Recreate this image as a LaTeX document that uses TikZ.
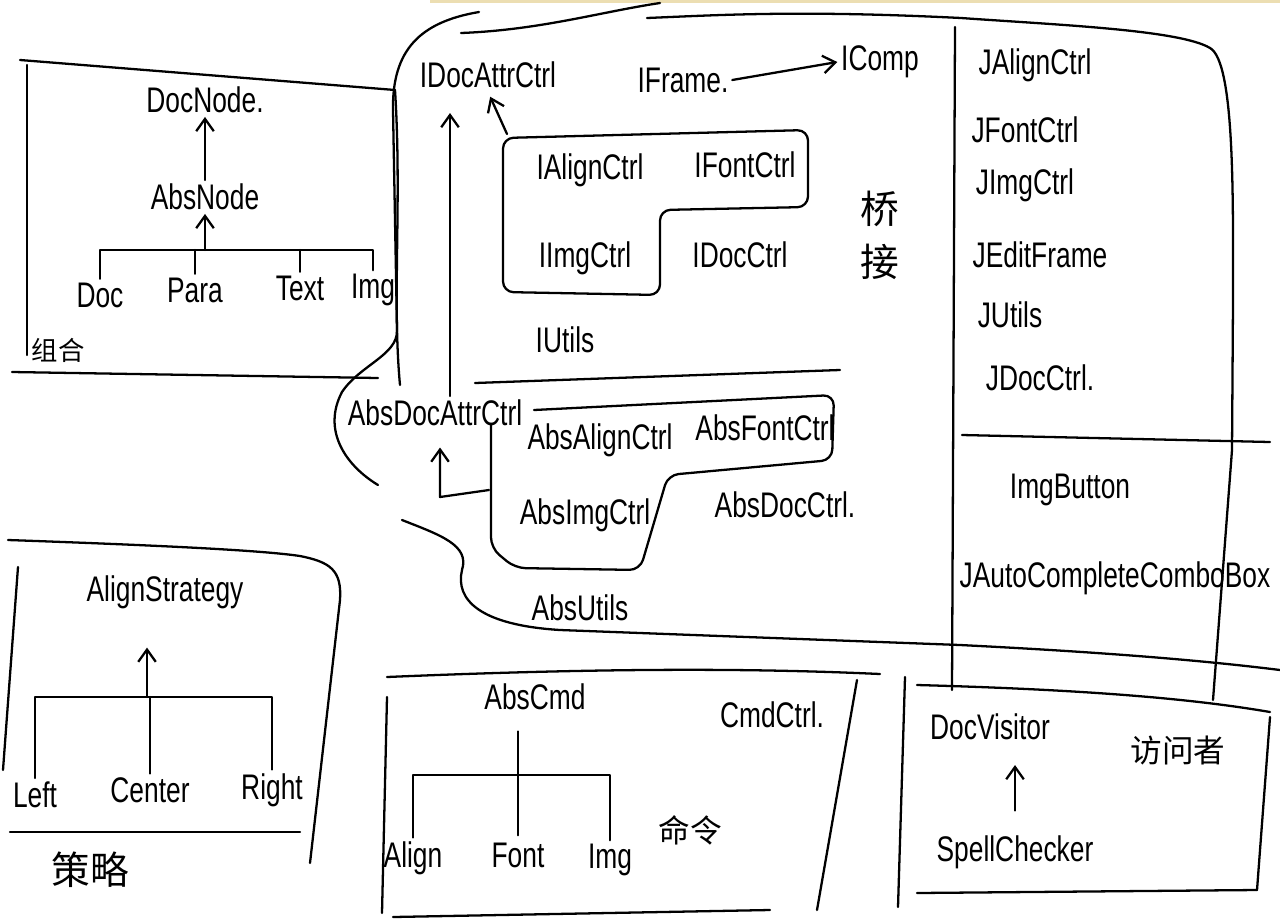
\documentclass[tikz,border=0pt]{standalone}
\usepackage{graphicx}
\usepackage{fontspec}
\setmainfont{Liberation Sans}
\newfontfamily\cjk{Noto Sans CJK SC}
\usetikzlibrary{arrows.meta}
\definecolor{paperedge}{RGB}{236,222,178}
\newcommand\talltxt[1]{\scalebox{1}[1.35]{#1}}
\begin{document}
\begin{tikzpicture}[x=0.02cm,y=-0.02cm,
  pen/.style={line width=1.3pt,line cap=round,line join=round},
  arr/.style={pen,-{Straight Barb[length=7pt,width=10pt]}},
  lbl/.style={font=\fontsize{15}{18}\selectfont,inner sep=2pt},
  zh/.style={font=\cjk\fontsize{18}{22}\selectfont,inner sep=2pt},
  zhbig/.style={font=\cjk\fontsize{22}{30}\selectfont,inner sep=2pt,align=center}]
\useasboundingbox (0,0) rectangle (1280,923);
\fill[paperedge] (430,0) rectangle (1280,3);

% ---------------- composite box (top left)
\draw[pen] (20,60) -- (395,90);
\draw[pen] (27,65) -- (27,355);
\draw[pen] (12,372) -- (378,378);
\node[lbl] (docnode) at (205,100) {\talltxt{DocNode.}};
\node[lbl] (absnode) at (205,197) {\talltxt{AbsNode}};
\node[lbl] (doc) at (100,295) {\talltxt{Doc}};
\node[lbl] (para) at (195,290) {\talltxt{Para}};
\node[lbl] (text) at (300,288) {\talltxt{Text}};
\node[lbl] (img) at (373,290) {\talltxt{Img}};
\node[zh,font=\cjk\fontsize{15}{18}\selectfont] (zuhe) at (58,350) {组合};
\draw[arr] (absnode.north) -- (docnode.south);
\coordinate (bk) at (205,250);
\draw[arr] (bk) -- (absnode.south);
\draw[pen] (doc.north) -- (doc.north |- bk) -- (img.north |- bk) -- (img.north);
\draw[pen] (para.north) -- (para.north |- bk);
\draw[pen] (text.north) -- (text.north |- bk);

% ---------------- bridge region outline
\draw[pen] (479,12) .. controls (420,22) and (392,50) .. (393,110) -- (397,330)
  .. controls (398,355) and (360,365) .. (342,392) .. controls (322,430) and (345,465) .. (378,485);
\draw[pen] (402,520) .. controls (440,535) and (470,545) .. (462,570)
  .. controls (455,600) and (480,625) .. (560,630) -- (960,645)
  .. controls (1100,652) and (1200,660) .. (1280,670);
\draw[pen] (395,90) .. controls (402,200) and (392,300) .. (400,385);
\draw[pen] (461,33) .. controls (540,30) and (600,12) .. (660,3);
\draw[pen] (647,18) .. controls (720,15) and (800,10) .. (961,18)
  .. controls (1060,25) and (1180,30) .. (1210,48)
  .. controls (1235,62) and (1233,200) .. (1233,300) -- (1232,450) -- (1213,700);

% interfaces
\node[lbl] (idocattr) at (488,75) {\talltxt{IDocAttrCtrl}};
\node[lbl] (iframe) at (683,80) {\talltxt{IFrame.}};
\node[lbl] (icomp) at (880,62) {\talltxt{IComp}};
\draw[arr] (iframe.east) -- (icomp.west);
\draw[pen,rounded corners=6pt] (503,138) -- (808,130) -- (808,207) -- (660,210) -- (660,295) -- (503,292) -- cycle;
\node[lbl] (ialign) at (590,170) {\talltxt{IAlignCtrl}};
\node[lbl] (ifont) at (745,165) {\talltxt{IFontCtrl}};
\node[lbl] (iimg) at (585,258) {\talltxt{IImgCtrl}};
\node[lbl] (idocctrl) at (740,255) {\talltxt{IDocCtrl}};
\node[lbl] (iutils) at (565,340) {\talltxt{IUtils}};
\coordinate (iboxc) at (507,134);
\draw[arr,shorten >=3pt] (iboxc) -- (idocattr.south);
\node[zhbig] (qiaojie) at (880,235) {桥\\接};
\draw[pen] (475,383) -- (840,370);

% abstract classes
\node[lbl] (absdocattr) at (435,413) {\talltxt{AbsDocAttrCtrl}};
\draw[arr,shorten >=12pt] ([xshift=0.3cm]absdocattr.north) -- ([xshift=0.3cm]absdocattr.north |- idocattr.south);
\draw[pen,rounded corners=6pt] (534,410) -- (834,395) -- (832,460) -- (668,475) -- (640,570) -- (515,568) -- (491,548) -- (491,425);
\node[lbl] (absalign) at (600,440) {\talltxt{AbsAlignCtrl}};
\node[lbl] (absfont) at (765,428) {\talltxt{AbsFontCtrl}};
\node[lbl] (absimg) at (585,515) {\talltxt{AbsImgCtrl}};
\node[lbl] (absdocctrl) at (785,505) {\talltxt{AbsDocCtrl.}};
\node[lbl] (absutils) at (580,608) {\talltxt{AbsUtils}};
\coordinate (absboxl) at (489,490);
\coordinate (hk) at (440,497);
\draw[arr,shorten >=10pt] (absboxl) -- (hk) -- (hk |- absdocattr.south);

% ---------------- Swing column
\draw[pen] (955,27) -- (952,690);
\draw[pen] (962,435) -- (1270,442);
\node[lbl] (jalign) at (1035,65) {\talltxt{JAlignCtrl}};
\node[lbl] (jfont) at (1025,130) {\talltxt{JFontCtrl}};
\node[lbl] (jimg) at (1025,185) {\talltxt{JImgCtrl}};
\node[lbl] (jedit) at (1040,255) {\talltxt{JEditFrame}};
\node[lbl] (jutils) at (1010,315) {\talltxt{JUtils}};
\node[lbl] (jdoc) at (1040,378) {\talltxt{JDocCtrl.}};
\node[lbl] (imgbtn) at (1070,490) {\talltxt{ImgButton}};
\node[lbl] (jauto) at (1115,578) {\talltxt{JAutoCompleteComboBox}};

% ---------------- strategy box
\draw[pen] (8,540) .. controls (150,545) and (260,550) .. (300,556)
  .. controls (330,562) and (342,570) .. (340,600) -- (310,863);
\draw[pen] (18,567) -- (3,770);
\draw[pen] (10,832) -- (300,832);
\node[lbl] (alignstrat) at (165,592) {\talltxt{AlignStrategy}};
\node[lbl] (left) at (35,795) {\talltxt{Left}};
\node[lbl] (center) at (150,790) {\talltxt{Center}};
\node[lbl] (right) at (272,790) {\talltxt{Right}};
\node[zhbig] (celue) at (90,870) {策略};
\coordinate (sbar) at (147,697);
\draw[arr,shorten >=20pt] (sbar) -- (sbar |- alignstrat.south);
\draw[pen] (left.north) -- (left.north |- sbar) -- (right.north |- sbar) -- (right.north);
\draw[pen] (center.north) -- (center.north |- sbar);

% ---------------- command box
\draw[pen] (387,677) .. controls (600,668) and (750,668) .. (880,674);
\draw[pen] (387,697) -- (382,913);
\draw[pen] (393,917) -- (770,910);
\draw[pen] (857,680) -- (817,910);
\node[lbl] (abscmd) at (535,697) {\talltxt{AbsCmd}};
\node[lbl] (cmdctrl) at (772,715) {\talltxt{CmdCtrl.}};
\node[lbl] (calign) at (413,858) {\talltxt{Align}};
\node[lbl] (cfont) at (518,855) {\talltxt{Font}};
\node[lbl] (cimg) at (610,860) {\talltxt{Img}};
\node[zh] (mingling) at (690,830) {命令};
\coordinate (cbar) at (518,775);
\draw[pen,shorten <=2pt,shorten >=10pt] (cfont.north) -- (cfont.north |- abscmd.south);
\draw[pen] (calign.north) -- (calign.north |- cbar) -- (cimg.north |- cbar) -- (cimg.north);

% ---------------- visitor box
\draw[pen] (905,677) -- (898,907);
\draw[pen] (917,685) .. controls (1100,690) and (1200,700) .. (1270,712);
\draw[pen] (1270,717) -- (1257,890);
\draw[pen] (917,893) -- (1257,890);
\node[lbl] (docvisitor) at (990,727) {\talltxt{DocVisitor}};
\node[zh] (fangwen) at (1178,750) {访问者};
\node[lbl] (spell) at (1015,852) {\talltxt{SpellChecker}};
\draw[arr,shorten <=12pt,shorten >=12pt] (spell.north) -- (spell.north |- docvisitor.south);
\end{tikzpicture}
\end{document}
